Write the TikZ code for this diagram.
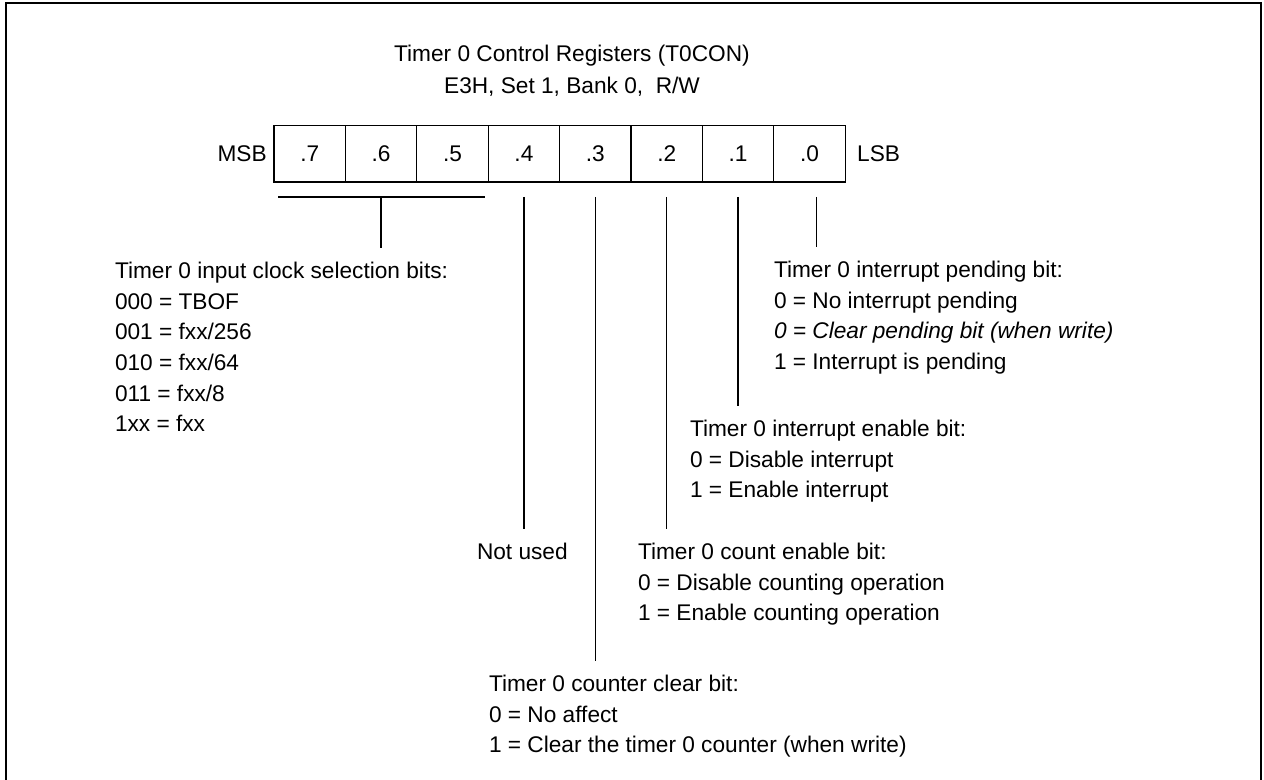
\documentclass[tikz,border=0pt]{standalone}
\usepackage{fontspec}
\setmainfont{Liberation Sans}
\usetikzlibrary{positioning,calc}

\tikzset{every picture/.style={line width=0.75pt}}
\tikzset{
  bitcell/.style={draw, line width=1pt, minimum width=53.55pt, minimum height=42.3pt, inner sep=0pt, outer sep=0pt, font=\fontsize{17}{23}\selectfont},
  txt/.style={inner sep=0pt, outer sep=0pt, align=left, font=\fontsize{17}{23}\selectfont},
  leader/.style={line width=1pt},
  frame/.style={line width=1.5pt}
}

\begin{document}
\begin{tikzpicture}[x=0.75pt,y=0.75pt,yscale=-1,xscale=1]
				\useasboundingbox (0,0) rectangle (1264,780);
				
				%Frame
				\draw [frame] (6,780) -- (6,3) -- (1261,3) -- (1261,780) ;
				
				% Title
				\node [txt] (ttl) at (572,56) {Timer 0 Control Registers (T0CON)};
				\node [txt] (sub) at (572,87) {E3H, Set 1, Bank 0,\ \ R/W};
				
				% Register cells
				\node [bitcell] (b7) at (309.7,153.7) {.7};
				\node [bitcell, right=0pt of b7] (b6) {.6};
				\node [bitcell, right=0pt of b6] (b5) {.5};
				\node [bitcell, right=0pt of b5] (b4) {.4};
				\node [bitcell, right=0pt of b4] (b3) {.3};
				\node [bitcell, right=0pt of b3] (b2) {.2};
				\node [bitcell, right=0pt of b2] (b1) {.1};
				\node [bitcell, right=0pt of b1] (b0) {.0};
				\node [txt, left=5.5pt of b7] (msb) {MSB};
				\node [txt, right=9pt of b0] (lsb) {LSB};
				
				% Text Node
				\node [txt, anchor=north west] (clk) at (115,262) {Timer 0 input clock selection bits:\\000 = TBOF\\001 = fxx/256\\010 = fxx/64\\011 = fxx/8\\1xx = fxx};
				% Text Node
				\node [txt, anchor=north west] (pnd) at (774,261) {Timer 0 interrupt pending bit:\\0 = No interrupt pending\\\textit{0 = Clear pending bit (when write)}\\1 = Interrupt is pending};
				% Text Node
				\node [txt, anchor=north west] (ien) at (690,420) {Timer 0 interrupt enable bit:\\0 = Disable interrupt\\1 = Enable interrupt};
				% Text Node
				\node [txt, anchor=north west] (nus) at (477,543) {Not used};
				% Text Node
				\node [txt, anchor=north west] (cen) at (638,543) {Timer 0 count enable bit:\\0 = Disable counting operation\\1 = Enable counting operation};
				% Text Node
				\node [txt, anchor=north west] (ccl) at (489,675) {Timer 0 counter clear bit:\\0 = No affect\\1 = Clear the timer 0 counter (when write)};
				
				%Straight Lines
				\draw [leader] ($(b7.south west)+(4,15)$) -- ($(b5.south east)+(-3,15)$) ;
				\draw [leader] ($(b6.south)+(0,15)$) -- ($(b6.south |- clk.north)+(0,-14)$) ;
				\draw [leader] ($(b4.south)+(0,15)$) -- ($(b4.south |- nus.north)+(0,-14)$) ;
				\draw [leader] ($(b3.south)+(0,15)$) -- ($(b3.south |- ccl.north)+(0,-14)$) ;
				\draw [leader] ($(b2.south)+(0,15)$) -- ($(b2.south |- cen.north)+(0,-14)$) ;
				\draw [leader] ($(b1.south)+(0,15)$) -- ($(b1.south |- ien.north)+(0,-14)$) ;
				\draw [leader] ($(b0.south)+(7,15)$) -- ($(b0.south |- pnd.north)+(7,-14)$) ;
				
			\end{tikzpicture}
\end{document}
